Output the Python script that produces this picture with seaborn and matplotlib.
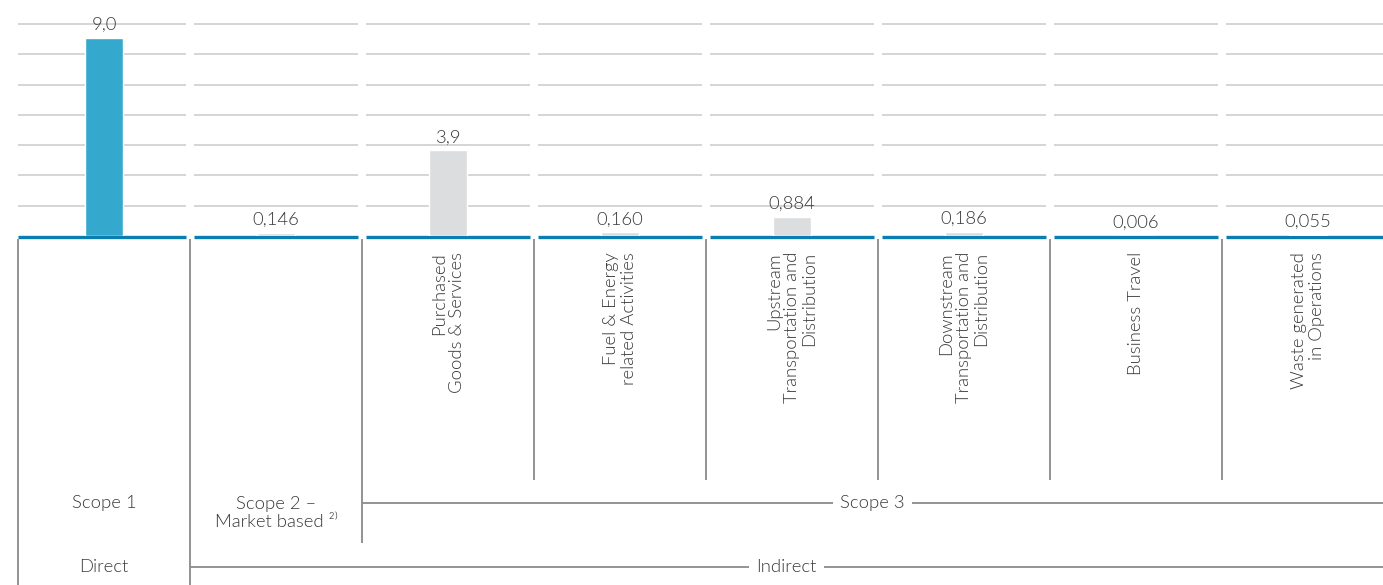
import numpy as np
import pandas as pd
import matplotlib
matplotlib.use("Agg")
import matplotlib.pyplot as plt
import seaborn as sb

# data
categories = ["Scope 1", "Scope 2", "Purchased Goods & Services", "Fuel & Energy related Activities",
              "Upstream Transportation and Distribution", "Downstream Transportation and Distribution",
              "Business Travel", "Waste generated in Operations"]
values = [9.0, 0.146, 3.9, 0.160, 0.884, 0.186, 0.006, 0.055]
value_labels = ["9,0", "0,146", "3,9", "0,160", "0,884", "0,186", "0,006", "0,055"]
cat_labels = ["", "",
              "Purchased\nGoods & Services",
              "Fuel & Energy\nrelated Activities",
              "Upstream\nTransportation and\nDistribution",
              "Downstream\nTransportation and\nDistribution",
              "Business Travel",
              "Waste generated\nin Operations"]

sb.set_style("white")
plt.rcParams['font.family'] = ['Lato', 'DejaVu Sans']

BLUE = '#35a8ce'
GRAY = '#dcdddf'
BASE = '#0a7eb0'
GRID = '#cacaca'
LINE = '#8a8a8a'
TXT = '#3a3a3a'
FS = 13.3
FW = 300

W, H = 1383, 585
fig = plt.figure(figsize=(W / 100, H / 100), dpi=100)

# bar area
ax = fig.add_axes([18 / W, (H - 236) / H, 1 - 18 / W, 212 / H])
df = pd.DataFrame({'cat': categories, 'val': values})
bar_colors = [BLUE] + [GRAY] * 7
sb.barplot(data=df, x='cat', y='val', hue='cat', palette=bar_colors, order=categories,
           width=0.22, legend=False, ax=ax, saturation=1, zorder=2)
xmax = (W - 104) / 172
ymax = 9.0 * 212 / 198
ax.set_xlim(-0.5, xmax)
ax.set_ylim(0, ymax)
ax.axis('off')

gap = 4 / 172
for i in range(8):
    x0 = -0.5 if i == 0 else i - 0.5 + gap
    x1 = min(i + 0.5 - gap, xmax)
    for g in np.linspace(0, ymax, 8)[1:]:
        ax.hlines(g, x0, x1, color=GRID, lw=1.1, zorder=0, clip_on=False)
    ax.hlines(-0.05, x0, x1, color=BASE, lw=2.4, zorder=1, clip_on=False)

for i, (v, lab) in enumerate(zip(values, value_labels)):
    ax.annotate(lab, (i, v), xytext=(0, 3.5), textcoords='offset points',
                ha='center', va='bottom', fontsize=FS, fontweight=FW, color=TXT)

# lower table area, y in pixel rows
lx = fig.add_axes([18 / W, 0, 1 - 18 / W, 349 / H])
lx.set_xlim(-0.5, xmax)
lx.set_ylim(585, 236)
lx.axis('off')

bottoms = [585, 585, 543, 480, 480, 480, 480, 480]
for i, b in enumerate(bottoms):
    lx.vlines(i - 0.5, 239, b, color=LINE, lw=1.3, clip_on=False)

for i, lab in enumerate(cat_labels):
    if lab:
        lx.text(i, 252, lab, rotation=90, ha='center', va='top', multialignment='right',
                fontsize=FS, fontweight=FW, color=TXT, linespacing=1.12)

lx.text(0, 503, "Scope 1", ha='center', va='center', fontsize=FS, fontweight=FW, color=TXT)
lx.text(1, 513, "Scope 2 –\nMarket based ²⁾", ha='center', va='center', fontsize=FS,
        fontweight=FW, color=TXT, linespacing=1.12)
lx.text(0, 567, "Direct", ha='center', va='center', fontsize=FS, fontweight=FW, color=TXT)

lx.hlines(503, 1.5, xmax, color=LINE, lw=1.3)
lx.text((1.5 + xmax) / 2, 503, "Scope 3", ha='center', va='center', fontsize=FS, fontweight=FW,
        color=TXT, bbox=dict(facecolor='white', edgecolor='none', pad=5))
lx.hlines(567, 0.5, xmax, color=LINE, lw=1.3)
lx.text((0.5 + xmax) / 2, 567, "Indirect", ha='center', va='center', fontsize=FS, fontweight=FW,
        color=TXT, bbox=dict(facecolor='white', edgecolor='none', pad=5))

fig.savefig('out.png', dpi=100, facecolor='white')
